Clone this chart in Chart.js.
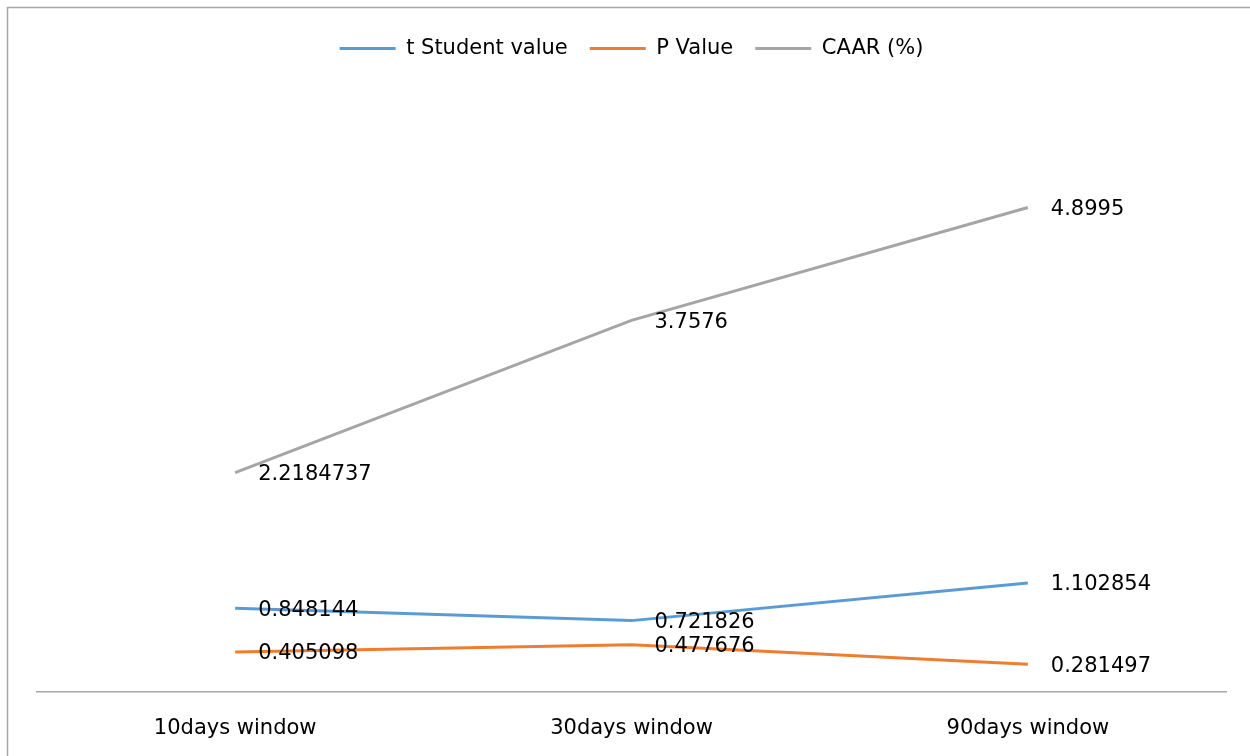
<!DOCTYPE html>
<html>
<head>
<meta charset="utf-8">
<script src="https://cdn.jsdelivr.net/npm/chart.js@4/dist/chart.umd.min.js"></script>
<style>
  html, body { margin: 0; padding: 0; background: #fff; }
  #wrap { width: 1250px; height: 756px; position: relative; }
</style>
</head>
<body>
<div id="wrap"><canvas id="c" width="1250" height="756"></canvas></div>
<script>
const categories = ["10days window", "30days window", "90days window"];
const tStudent = [0.848144, 0.721826, 1.102854];
const pValue = [0.405098, 0.477676, 0.281497];
const caar = [2.2184737, 3.7576, 4.8995];
const seriesNames = ["t Student value", "P Value", "CAAR (%)"];
const labelTexts = [
  ["0.848144", "0.721826", "1.102854"],
  ["0.405098", "0.477676", "0.281497"],
  ["2.2184737", "3.7576", "4.8995"]
];
const yMin = 0;
const yMax = 6.3;

const FONT = "'DejaVu Sans', sans-serif";

const borderPlugin = {
  id: 'outerBorder',
  beforeDraw(chart) {
    const ctx = chart.ctx;
    ctx.save();
    ctx.fillStyle = '#ffffff';
    ctx.fillRect(0, 0, chart.width, chart.height);
    ctx.strokeStyle = '#a6a6a6';
    ctx.lineWidth = 1.5;
    ctx.strokeRect(7.5, 7.5, 1400, 900);
    ctx.restore();
  }
};

const labelPlugin = {
  id: 'pointLabels',
  afterDatasetsDraw(chart) {
    const ctx = chart.ctx;
    ctx.save();
    ctx.font = "21px " + FONT;
    ctx.fillStyle = '#000000';
    ctx.textAlign = 'left';
    ctx.textBaseline = 'middle';
    chart.data.datasets.forEach((ds, i) => {
      const meta = chart.getDatasetMeta(i);
      meta.data.forEach((pt, j) => {
        ctx.fillText(labelTexts[i][j], pt.x + 23, pt.y + 2);
      });
    });
    ctx.restore();
  }
};

new Chart(document.getElementById('c'), {
  type: 'line',
  data: {
    labels: categories,
    datasets: [
      { label: seriesNames[0], data: tStudent, borderColor: '#5b9bd5', backgroundColor: '#5b9bd5' },
      { label: seriesNames[1], data: pValue, borderColor: '#ed7d31', backgroundColor: '#ed7d31' },
      { label: seriesNames[2], data: caar, borderColor: '#a5a5a5', backgroundColor: '#a5a5a5' }
    ]
  },
  options: {
    responsive: false,
    animation: false,
    devicePixelRatio: 1,
    layout: { padding: { left: 37, right: 24, top: 16, bottom: 0 } },
    elements: {
      line: { borderWidth: 3, tension: 0 },
      point: { radius: 0, hoverRadius: 0 }
    },
    plugins: {
      legend: {
        position: 'top',
        labels: {
          boxWidth: 56,
          boxHeight: 3,
          color: '#000',
          padding: 22,
          font: { family: FONT, size: 21 },
          generateLabels(chart) {
            const items = Chart.defaults.plugins.legend.labels.generateLabels(chart);
            items.forEach(it => { it.lineWidth = 0; it.strokeStyle = 'rgba(0,0,0,0)'; });
            return items;
          }
        }
      },
      tooltip: { enabled: false }
    },
    scales: {
      x: {
        offset: true,
        grid: { display: false },
        border: { display: true, color: '#a6a6a6', width: 1.5 },
        ticks: { color: '#000', padding: 16, font: { family: FONT, size: 21 } },
        afterFit(scale) { scale.height = 64; }
      },
      y: {
        display: false,
        min: yMin,
        max: yMax
      }
    }
  },
  plugins: [borderPlugin, labelPlugin]
});
</script>
</body>
</html>
